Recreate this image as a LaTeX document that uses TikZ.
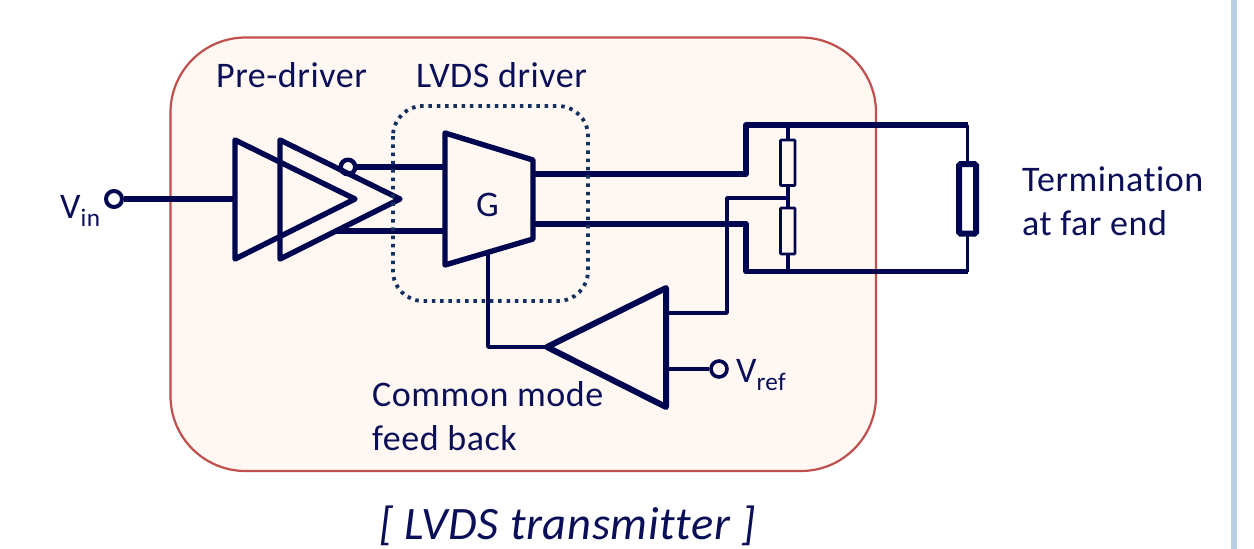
\documentclass[tikz,border=0pt]{standalone}
\usepackage{fontspec}
\setmainfont[Ligatures=NoCommon,LetterSpace=1.5]{Carlito}
\definecolor{wire}{HTML}{00064F}
\definecolor{ink}{HTML}{0B0F58}
\definecolor{dots}{HTML}{14305F}
\definecolor{panel}{HTML}{FEF7F2}
\definecolor{edge}{HTML}{C0504D}
\definecolor{strip}{HTML}{B9CDE5}
\tikzset{
  px/.style={x=1pt,y=-1pt},
  panelbox/.style={draw=edge,line width=2.2pt,fill=panel,rounded corners=75pt},
  thick wire/.style={draw=wire,line width=5.6pt,line join=round},
  mid wire/.style={draw=wire,line width=3.8pt,line join=round},
  thin wire/.style={draw=wire,line width=3.4pt,line join=round},
  gate/.style={draw=wire,line width=5.4pt,line join=round,fill=panel},
  gate open/.style={draw=wire,line width=5.4pt,line join=round},
  smallres/.style={draw=wire,line width=2.8pt,fill=panel,rounded corners=0.8pt},
  bigres/.style={draw=wire,line width=6pt,fill=white,rounded corners=1.5pt},
  pin/.style={circle,draw=wire,fill=white,line width=4pt,minimum size=16pt,inner sep=0pt},
  invpin/.style={circle,draw=wire,fill=panel,line width=4.4pt,minimum size=14.5pt,inner sep=0pt},
  driverbox/.style={draw=dots,line width=3.8pt,dash pattern=on 3.5pt off 4.8pt,rounded corners=30pt},
  lbl/.style={text=ink,font=\fontsize{36}{36}\selectfont,inner sep=0pt,anchor=base west,align=left},
  caption/.style={text=ink,font=\fontsize{46.5}{46.5}\selectfont\itshape,inner sep=0pt,anchor=base}
}
\begin{document}
\begin{tikzpicture}[px]
\useasboundingbox (0,0) rectangle (1254,549);
\fill[white] (0,0) rectangle (1254,549);
\fill[strip] (1231,0) rectangle (1237,549);
\draw[panelbox] (170.5,37.5) rectangle (876,471);

% key points
\coordinate (t1a) at (235,140);
\coordinate (t1b) at (235,259);
\coordinate (t1c) at (355,199);
\coordinate (t2a) at (280,140);
\coordinate (t2b) at (280,259);
\coordinate (t2c) at (400,199);
\coordinate (ga) at (445,133);
\coordinate (gb) at (533,160);
\coordinate (gc) at (533,239);
\coordinate (gd) at (445,265);
\coordinate (ca) at (666,288);
\coordinate (cb) at (666,407);
\coordinate (cc) at (547,347);
\coordinate (gfb) at (488,252);
\coordinate (lowstub) at (335,231);
\coordinate (gin1) at (445,167);
\coordinate (gin2) at (445,231);
\coordinate (gout1) at (533,174);
\coordinate (gout2) at (533,224);
\coordinate (ctl) at (746,125);
\coordinate (ctr) at (967.5,125);
\coordinate (cbl) at (746,271.5);
\coordinate (cbr) at (967.5,271.5);
\coordinate (midtap) at (788,198);
\coordinate (top) at (788,125);
\coordinate (bot) at (788,271.5);
\coordinate (cfbout) at (666,313);
\coordinate (cvref) at (666,369);
\coordinate (fbcorner) at (727,313);

\node[pin] (vin) at (114,199) {};
\node[pin,fill=panel,line width=3.6pt] (vref) at (719,369) {};
\node[invpin] (inv) at (348,167) {};

% wires
\draw[thick wire] (vin) -- (t1a |- vin);
\draw[thick wire] (inv) -- (gin1);
\draw[thick wire] (lowstub) -- (gin2);
\draw[thick wire] (gout1) -| (ctl) -- (ctr);
\draw[thick wire] (gout2) -| (cbl) -- (cbr);
\draw[mid wire] (top) -- (bot);
\draw[mid wire] (ctr) -- (cbr);
\draw[thin wire] (midtap) -| (fbcorner) -- (cfbout);
\draw[thin wire] (gfb) |- (cc);
\draw[mid wire] (cvref) -- (vref);

% buffers
\draw[gate open] (t1a) -- (t1c) -- (t1b) -- cycle;
\draw[gate open] (t2a) -- (t2c) -- (t2b) -- cycle;
\draw[gate] (ga) -- (gb) -- (gc) -- (gd) -- cycle;
\draw[gate,line width=6pt] (ca) -- (cb) -- (cc) -- cycle;

% resistors
\draw[smallres] (780.5,140) rectangle (795,185.5);
\draw[smallres] (780.5,208) rectangle (795,254);
\draw[bigres] (959,164) rectangle (976,233.5);

% driver outline
\draw[driverbox] (393,106) rectangle (588,301);

% labels
\node[lbl] (lpre) at (216,87) {Pre-driver};
\node[lbl] (llvds) at (416,87) {LVDS driver};
\node[lbl] (lg) at (476,216) {G};
\node[lbl] (lterm1) at (1022,191) {Termination};
\node[lbl] (lterm2) at (1022,235) {at far end};
\node[lbl] (lvin) at (60,218) {V\textsubscript{in}};
\node[lbl] (lvref) at (736,382) {V\textsubscript{ref}};
\node[lbl] (lcm1) at (372,406) {Common mode};
\node[lbl] (lcm2) at (372,450) {feed back};
\node[caption] (cap) at (567.5,539) {[ LVDS transmitter ]};
\end{tikzpicture}
\end{document}
